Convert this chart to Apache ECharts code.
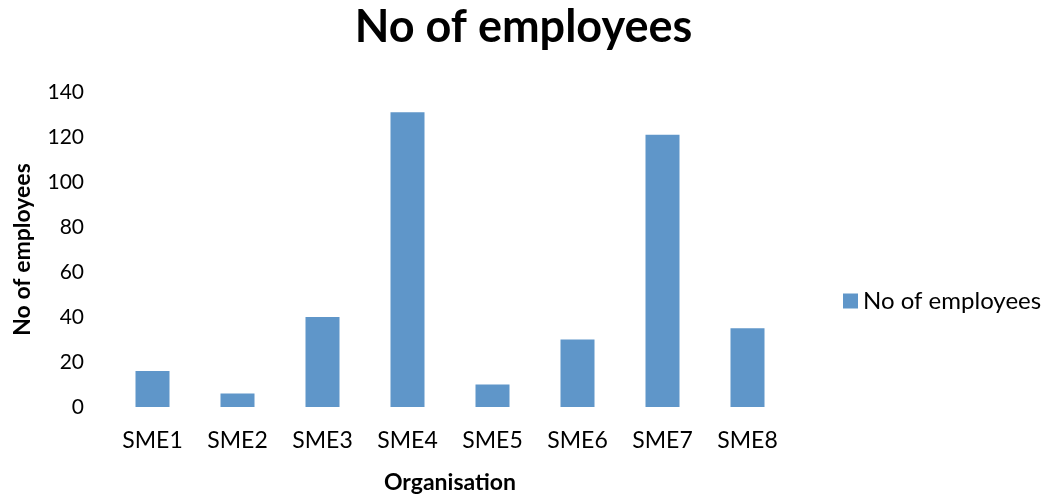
<!DOCTYPE html>
<html>
<head>
    <meta charset="UTF-8"/>
    <title>No of employees</title>
    <script type="text/javascript" src="https://cdn.jsdelivr.net/npm/echarts@6/dist/echarts.min.js"></script>
    <style>
        html, body { margin: 0; padding: 0; background: #fff; }
        #chart { width: 1047px; height: 499px; }
    </style>
</head>
<body>
<div id="chart"></div>
<script>
    // data
    var organisations = ['SME1', 'SME2', 'SME3', 'SME4', 'SME5', 'SME6', 'SME7', 'SME8'];
    var employees = [16, 6, 40, 131, 10, 30, 121, 35];
    var yTicks = [0, 20, 40, 60, 80, 100, 120, 140];

    var font = 'Lato, "Open Sans", sans-serif';
    var chart = echarts.init(document.getElementById('chart'));
    chart.setOption({
        animation: false,
        title: {
            text: 'No of employees',
            left: 'center',
            top: 0,
            textStyle: { fontFamily: font, fontSize: 45, fontWeight: 'bold', color: '#000' }
        },
        legend: {
            left: 838,
            top: 284,
            itemWidth: 15,
            itemHeight: 15,
            itemGap: 6,
            icon: 'rect',
            textStyle: { fontFamily: font, fontSize: 24, color: '#000' }
        },
        grid: { left: 110, right: 257, top: 92, bottom: 92, outerBoundsMode: 'none' },
        xAxis: {
            type: 'category',
            data: organisations,
            name: 'Organisation',
            nameLocation: 'middle',
            nameGap: 64,
            nameTextStyle: { fontFamily: font, fontSize: 23, fontWeight: 'bold', color: '#000' },
            axisLine: { show: false },
            axisTick: { show: false },
            axisLabel: { fontFamily: font, fontSize: 23, color: '#000', margin: 22 }
        },
        yAxis: {
            type: 'value',
            min: yTicks[0],
            max: yTicks[yTicks.length - 1],
            interval: yTicks[1] - yTicks[0],
            name: 'No of employees',
            nameLocation: 'middle',
            nameGap: 76,
            nameTextStyle: { fontFamily: font, fontSize: 23, fontWeight: 'bold', color: '#000' },
            axisLine: { show: false },
            axisTick: { show: false },
            splitLine: { show: false },
            axisLabel: { fontFamily: font, fontSize: 21, color: '#000', margin: 26, padding: [4, 0, 0, 0] }
        },
        series: [{
            name: 'No of employees',
            type: 'bar',
            data: employees,
            barWidth: 34,
            itemStyle: { color: '#5F96C9' }
        }]
    });
</script>
</body>
</html>
